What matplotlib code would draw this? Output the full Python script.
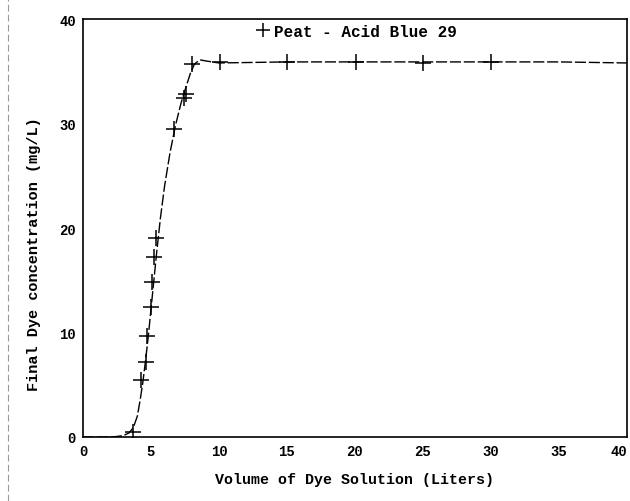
import matplotlib
matplotlib.use("Agg")
import matplotlib.pyplot as plt
from matplotlib.lines import Line2D

# Measured points (Volume L, Final dye concentration mg/L)
vol_pts = [3.65, 4.3, 4.6, 4.7, 5.0, 5.05, 5.25, 5.4, 6.7, 7.4, 7.6, 8.0, 10.1, 15.0, 20.1, 25.0, 30.0]
conc_pts = [0.5, 5.5, 7.2, 9.7, 12.4, 14.8, 17.2, 19.0, 29.5, 32.4, 32.8, 35.7, 35.9, 35.9, 35.9, 35.8, 35.9]

# Fitted curve
vol_curve = [0, 1, 2, 2.5, 3.0, 3.4, 3.7, 4.0, 4.2, 4.4, 4.6, 4.8, 5.0, 5.2, 5.4, 5.7, 6.0, 6.4,
             6.8, 7.2, 7.6, 7.9, 8.2, 8.6, 9.0, 9.5, 10.0, 15, 20, 25, 30, 35, 40]
conc_curve = [0, 0, 0, 0.05, 0.15, 0.4, 0.9, 2.0, 3.5, 5.2, 7.3, 9.6, 12.2, 14.8, 17.4, 21.0, 24.0, 27.2,
              29.8, 31.9, 33.6, 34.8, 35.7, 36.1, 36.0, 35.9, 35.8, 35.9, 35.9, 35.9, 35.9, 35.9, 35.8]

x_ticks = [0, 5, 10, 15, 20, 25, 30, 35, 40]
y_ticks = [0, 10, 20, 30, 40]

FONT = "Liberation Mono"

fig = plt.figure(figsize=(6.3, 5.02), dpi=100)
ax = fig.add_axes([0.1317, 0.1275, 0.8633, 0.8325])

# faint scan border line at the left edge
fig.add_artist(Line2D([0.013, 0.013], [0.0, 1.0], transform=fig.transFigure,
                      color="#999999", lw=0.8, ls=(0, (6, 3))))

ax.plot(vol_curve, conc_curve, color="black", lw=1.0, ls=(0, (8, 2)))
ax.plot(vol_pts, conc_pts, ls="none", marker="+", ms=11, mew=1.1, color="black",
        label="Peat - Acid Blue 29")

ax.set_xlim(0, 40)
ax.set_ylim(0, 40)
ax.set_xticks(x_ticks)
ax.set_yticks(y_ticks)
ax.set_xticklabels([str(t) for t in x_ticks], fontfamily=FONT, fontsize=10, fontweight="bold")
ax.set_yticklabels([str(t) for t in y_ticks], fontfamily=FONT, fontsize=10, fontweight="bold")
ax.tick_params(length=0, pad=5)
ax.get_xticklabels()[-1].set_horizontalalignment("right")
ax.get_xticklabels()[-1].set_x(40.2)

for s in ax.spines.values():
    s.set_linewidth(1.2)
    s.set_color("black")

ax.set_xlabel("Volume of Dye Solution (Liters)", fontfamily=FONT, fontsize=10.8,
              fontweight="bold", labelpad=10)
ax.set_ylabel("Final Dye concentration (mg/L)", fontfamily=FONT, fontsize=11,
              fontweight="bold")
ax.yaxis.set_label_coords(-0.078, 0.44)

leg = ax.legend(loc="upper left", bbox_to_anchor=(0.31, 1.0), frameon=False,
                prop={"family": FONT, "size": 11.5, "weight": "bold"},
                handlelength=0.8, handletextpad=0.3, borderpad=0.3,
                borderaxespad=0, markerscale=0.9)

fig.savefig("out.png", dpi=100)
